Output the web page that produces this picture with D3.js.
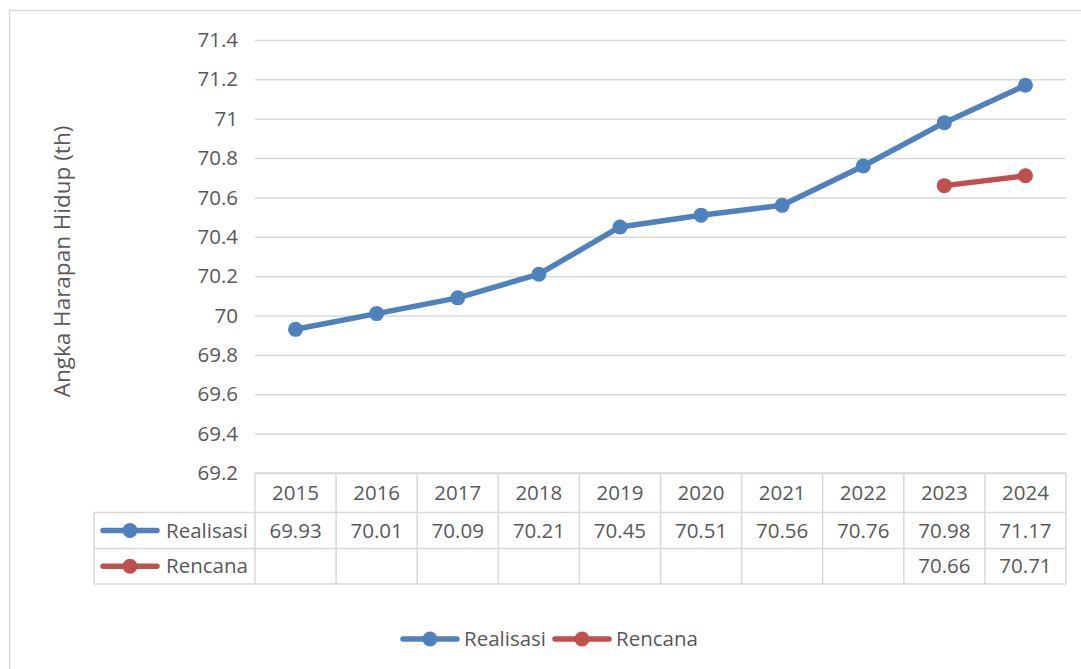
<!DOCTYPE html>
<html>
<head>
<meta charset="utf-8">
<script src="https://cdn.jsdelivr.net/npm/d3@7"></script>
<style>
  html, body { margin: 0; padding: 0; background: #fff; }
  svg { display: block; font-family: "Open Sans", sans-serif; }
</style>
</head>
<body>
<svg id="chart" width="1081" height="669"></svg>
<script>
// Life expectancy: realised vs planned
const years = ["2015", "2016", "2017", "2018", "2019", "2020", "2021", "2022", "2023", "2024"];
const realisasi = [69.93, 70.01, 70.09, 70.21, 70.45, 70.51, 70.56, 70.76, 70.98, 71.17];
const rencana = [null, null, null, null, null, null, null, null, 70.66, 70.71];
const yTicks = [69.2, 69.4, 69.6, 69.8, 70, 70.2, 70.4, 70.6, 70.8, 71, 71.2, 71.4];
const seriesNames = ["Realisasi", "Rencana"];
const seriesColors = ["#4F81BD", "#C0504D"];
const yTitle = "Angka Harapan Hidup (th)";

const svg = d3.select("#chart");
const textColor = "#595959";
const gridColor = "#d9d9d9";
const fontSize = 20.5;

// outer chart frame
svg.append("rect")
  .attr("x", 9.5).attr("y", 10.5)
  .attr("width", 1100).attr("height", 700)
  .attr("fill", "#fff").attr("stroke", gridColor).attr("stroke-width", 1.5);

const plot = { left: 255, right: 1066, top: 40, bottom: 473 };

const x = d3.scaleBand().domain(years).range([plot.left, plot.right]).padding(0);
const y = d3.scaleLinear().domain([69.2, 71.4]).range([plot.bottom, plot.top]);

// y axis with gridlines
const yAxis = d3.axisLeft(y)
  .tickValues(yTicks)
  .tickFormat(d3.format("~g"))
  .tickSizeInner(-(plot.right - plot.left))
  .tickSizeOuter(0)
  .tickPadding(17);

const gy = svg.append("g")
  .attr("transform", `translate(${plot.left},0)`)
  .call(yAxis);
gy.select(".domain").remove();
gy.selectAll(".tick line").attr("stroke", gridColor).attr("stroke-width", 1.5);
gy.selectAll(".tick text")
  .attr("fill", textColor)
  .style("font-size", fontSize + "px")
  .style("font-family", "'Open Sans', sans-serif");

// y axis title
svg.append("text")
  .attr("transform", `translate(62,${(plot.top + plot.bottom) / 2 + 5}) rotate(-90)`)
  .attr("text-anchor", "middle")
  .attr("dy", "0.35em")
  .attr("fill", textColor)
  .style("font-size", "22.5px")
  .text(yTitle);

// series lines and markers
const allSeries = [realisasi, rencana];
const line = d3.line()
  .defined(d => d.v != null)
  .x(d => x(d.year) + x.bandwidth() / 2)
  .y(d => y(d.v));

allSeries.forEach((vals, i) => {
  const pts = years.map((yr, j) => ({ year: yr, v: vals[j] }));
  svg.append("path")
    .datum(pts)
    .attr("d", line)
    .attr("fill", "none")
    .attr("stroke", seriesColors[i])
    .attr("stroke-width", 5.5)
    .attr("stroke-linejoin", "round")
    .attr("stroke-linecap", "round");
  svg.append("g")
    .selectAll("circle")
    .data(pts.filter(d => d.v != null))
    .join("circle")
    .attr("cx", d => x(d.year) + x.bandwidth() / 2)
    .attr("cy", d => y(d.v))
    .attr("r", 7.5)
    .attr("fill", seriesColors[i]);
});

// data table below the plot
const tbl = { legendLeft: 94, headerTop: 473, rowH: [39.5, 36, 35.5] };
const rowTops = [tbl.headerTop];
tbl.rowH.forEach((h, i) => rowTops.push(rowTops[i] + h));
const tableBottom = rowTops[3];
const tg = svg.append("g").attr("stroke", gridColor).attr("stroke-width", 1.5).attr("fill", "none");

// horizontal rules
tg.append("line").attr("x1", plot.left).attr("x2", plot.right).attr("y1", rowTops[0]).attr("y2", rowTops[0]);
[1, 2, 3].forEach(r => {
  tg.append("line").attr("x1", tbl.legendLeft).attr("x2", plot.right).attr("y1", rowTops[r]).attr("y2", rowTops[r]);
});
// vertical rules
tg.append("line").attr("x1", tbl.legendLeft).attr("x2", tbl.legendLeft).attr("y1", rowTops[1]).attr("y2", tableBottom);
years.forEach(yr => {
  tg.append("line").attr("x1", x(yr)).attr("x2", x(yr)).attr("y1", rowTops[0]).attr("y2", tableBottom);
});
tg.append("line").attr("x1", plot.right).attr("x2", plot.right).attr("y1", rowTops[0]).attr("y2", tableBottom);

// header years
svg.append("g").selectAll("text")
  .data(years)
  .join("text")
  .attr("x", d => x(d) + x.bandwidth() / 2)
  .attr("y", (rowTops[0] + rowTops[1]) / 2)
  .attr("dy", "0.35em")
  .attr("text-anchor", "middle")
  .attr("fill", textColor)
  .style("font-size", fontSize + "px")
  .text(d => d);

// legend keys drawn as a small line with a dot
function legendKey(g, cx, cy, color) {
  g.append("line")
    .attr("x1", cx - 27).attr("x2", cx + 27)
    .attr("y1", cy).attr("y2", cy)
    .attr("stroke", color).attr("stroke-width", 5.5).attr("stroke-linecap", "round");
  g.append("circle").attr("cx", cx).attr("cy", cy).attr("r", 7.5).attr("fill", color);
}

allSeries.forEach((vals, i) => {
  const cy = (rowTops[i + 1] + rowTops[i + 2]) / 2;
  const g = svg.append("g");
  legendKey(g, 130, cy, seriesColors[i]);
  g.append("text")
    .attr("x", 166).attr("y", cy).attr("dy", "0.35em")
    .attr("fill", textColor)
    .style("font-size", fontSize + "px")
    .text(seriesNames[i]);
  g.selectAll("text.val")
    .data(years.map((yr, j) => ({ year: yr, v: vals[j] })).filter(d => d.v != null))
    .join("text")
    .attr("class", "val")
    .attr("x", d => x(d.year) + x.bandwidth() / 2)
    .attr("y", cy).attr("dy", "0.35em")
    .attr("text-anchor", "middle")
    .attr("fill", textColor)
    .style("font-size", fontSize + "px")
    .text(d => d3.format(".2f")(d.v));
});

// bottom legend
const legendY = 639;
const legendItems = [{ cx: 430, tx: 464 }, { cx: 582, tx: 616 }];
legendItems.forEach((it, i) => {
  const g = svg.append("g");
  legendKey(g, it.cx, legendY, seriesColors[i]);
  g.append("text")
    .attr("x", it.tx).attr("y", legendY).attr("dy", "0.35em")
    .attr("fill", textColor)
    .style("font-size", fontSize + "px")
    .text(seriesNames[i]);
});
</script>
</body>
</html>
